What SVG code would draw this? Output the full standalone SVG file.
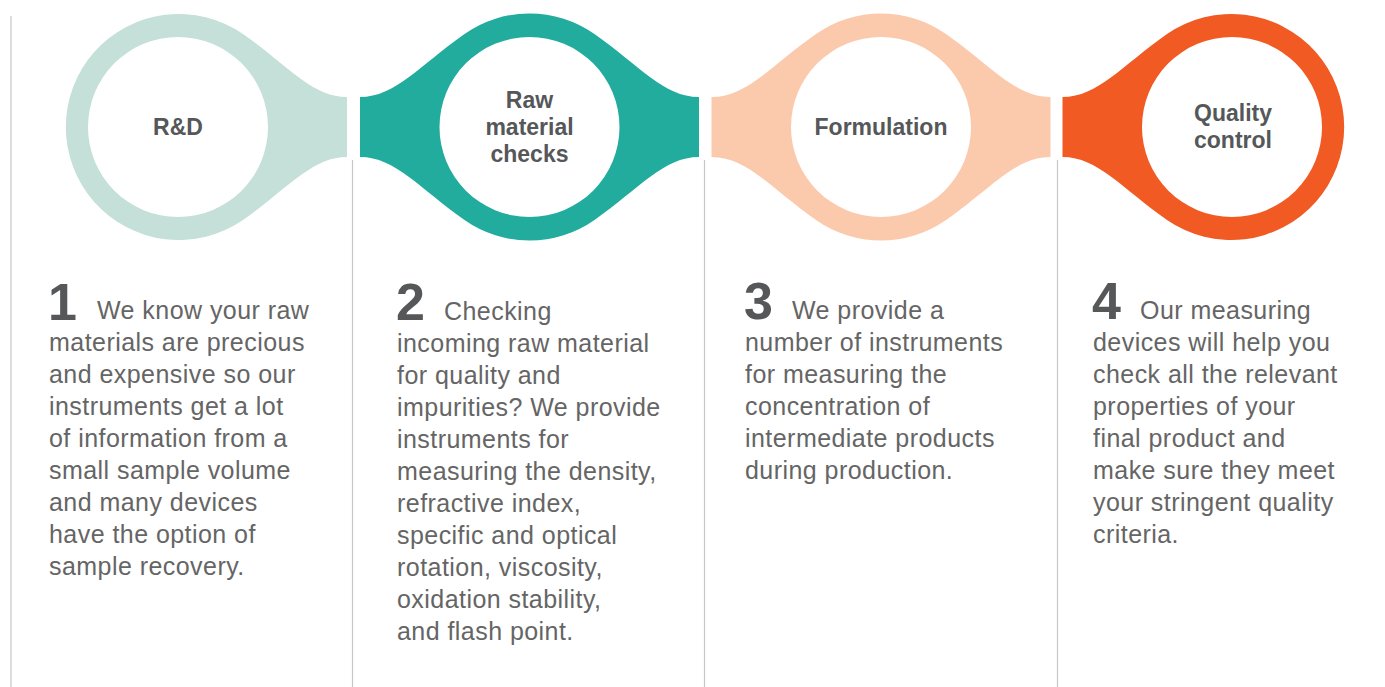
<svg xmlns="http://www.w3.org/2000/svg" width="1385" height="687" viewBox="0 0 1385 687">
<style>
.hd{font-family:"Liberation Sans",Arial,Helvetica,sans-serif;font-weight:bold;font-size:23px;fill:#555759;text-anchor:middle}
.num{font-family:"Liberation Sans",Arial,Helvetica,sans-serif;font-weight:bold;font-size:52px;fill:#555759}
.bd{font-family:"Liberation Sans",Arial,Helvetica,sans-serif;font-size:25px;letter-spacing:0.45px;fill:#656565}
.div{stroke:#c6c6c6;stroke-width:1.2;fill:none}
</style>
<rect width="1385" height="687" fill="#ffffff"/>
<g id="connectors">
<line class="div" x1="11" y1="16" x2="11" y2="687"/>
<line class="div" x1="352.5" y1="160" x2="352.5" y2="687"/>
<line class="div" x1="704.5" y1="160" x2="704.5" y2="687"/>
<line class="div" x1="1057.5" y1="160" x2="1057.5" y2="687"/>
</g>
<g id="node-rd">
<path fill="#c4e0d8" fill-rule="evenodd" d="M243,34 C288,65.5 312,97 347,97 L347,157 C312,157 288,188.5 243,220 A113,113 0 1,1 243,34 Z M88,127 a90,90 0 1,0 180,0 a90,90 0 1,0 -180,0 Z"/>
<text class="hd" x="178" y="135">R&amp;D</text>
</g>
<g id="node-raw">
<path fill="#21ac9e" fill-rule="evenodd" d="M464.5,34 A113,113 0 0,1 594.5,34 C639.5,65.5 663.5,97 699,97 L699,157 C663.5,157 639.5,188.5 594.5,220 A113,113 0 0,1 464.5,220 C419.5,188.5 395.5,157 360,157 L360,97 C395.5,97 419.5,65.5 464.5,34 Z M439.5,127 a90,90 0 1,0 180,0 a90,90 0 1,0 -180,0 Z"/>
<text class="hd" x="529.5" y="108">Raw</text>
<text class="hd" x="529.5" y="135">material</text>
<text class="hd" x="529.5" y="162">checks</text>
</g>
<g id="node-formulation">
<path fill="#fbcaad" fill-rule="evenodd" d="M816,34 A113,113 0 0,1 946,34 C991,65.5 1015,97 1050.5,97 L1050.5,157 C1015,157 991,188.5 946,220 A113,113 0 0,1 816,220 C771,188.5 747,157 711.5,157 L711.5,97 C747,97 771,65.5 816,34 Z M791,127 a90,90 0 1,0 180,0 a90,90 0 1,0 -180,0 Z"/>
<text class="hd" x="881" y="135">Formulation</text>
</g>
<g id="node-qc">
<path fill="#f15a22" fill-rule="evenodd" d="M1167,34 A113,113 0 1,1 1167,220 C1122,188.5 1098,157 1062.5,157 L1062.5,97 C1098,97 1122,65.5 1167,34 Z M1142,127 a90,90 0 1,0 180,0 a90,90 0 1,0 -180,0 Z"/>
<text class="hd" x="1233" y="121">Quality</text>
<text class="hd" x="1233" y="148">control</text>
</g>
<g id="text-1">
<text class="num" x="48" y="320">1</text>
<text class="bd" x="97" y="319">We know your raw</text>
<text class="bd" x="49" y="351">materials are precious</text>
<text class="bd" x="49" y="383">and expensive so our</text>
<text class="bd" x="49" y="415">instruments get a lot</text>
<text class="bd" x="49" y="447">of information from a</text>
<text class="bd" x="49" y="479">small sample volume</text>
<text class="bd" x="49" y="511">and many devices</text>
<text class="bd" x="49" y="543">have the option of</text>
<text class="bd" x="49" y="575">sample recovery.</text>
</g>
<g id="text-2">
<text class="num" x="396" y="320">2</text>
<text class="bd" x="444" y="320">Checking</text>
<text class="bd" x="397" y="352">incoming raw material</text>
<text class="bd" x="397" y="384">for quality and</text>
<text class="bd" x="397" y="416">impurities? We provide</text>
<text class="bd" x="397" y="448">instruments for</text>
<text class="bd" x="397" y="480">measuring the density,</text>
<text class="bd" x="397" y="512">refractive index,</text>
<text class="bd" x="397" y="544">specific and optical</text>
<text class="bd" x="397" y="576">rotation, viscosity,</text>
<text class="bd" x="397" y="608">oxidation stability,</text>
<text class="bd" x="397" y="640">and flash point.</text>
</g>
<g id="text-3">
<text class="num" x="744" y="319">3</text>
<text class="bd" x="792" y="319">We provide a</text>
<text class="bd" x="745" y="351">number of instruments</text>
<text class="bd" x="745" y="383">for measuring the</text>
<text class="bd" x="745" y="415">concentration of</text>
<text class="bd" x="745" y="447">intermediate products</text>
<text class="bd" x="745" y="479">during production.</text>
</g>
<g id="text-4">
<text class="num" x="1092" y="319">4</text>
<text class="bd" x="1140" y="319">Our measuring</text>
<text class="bd" x="1093" y="351">devices will help you</text>
<text class="bd" x="1093" y="383">check all the relevant</text>
<text class="bd" x="1093" y="415">properties of your</text>
<text class="bd" x="1093" y="447">final product and</text>
<text class="bd" x="1093" y="479">make sure they meet</text>
<text class="bd" x="1093" y="511">your stringent quality</text>
<text class="bd" x="1093" y="543">criteria.</text>
</g>
</svg>
